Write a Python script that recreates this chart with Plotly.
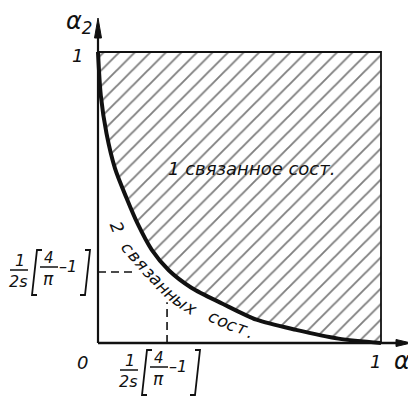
import plotly.graph_objects as go

# граница областей на плоскости (alpha1, alpha2)
alpha1 = [0.0, 0.01, 0.03, 0.06, 0.10, 0.14, 0.19, 0.25, 0.33, 0.44, 0.56, 0.70, 0.85, 1.0]
alpha2 = [1.0, 0.85, 0.72, 0.60, 0.50, 0.41, 0.32, 0.25, 0.19, 0.135, 0.08, 0.045, 0.015, 0.0]
box_x = [0, 1, 1]
box_y = [1, 1, 0]
crit = 0.244  # 1/(2s)[4/pi - 1]

PAGE_W, PAGE_H = 416, 396
OFF = 8            # отступ body в странице
W, H = PAGE_W - OFF, PAGE_H - OFF
X0, SX = 98, 283   # пиксель начала координат и масштаб по alpha1
Y0, SY = 343, 291  # то же по alpha2


def X(px):
    return (px - X0) / SX


def Y(py):
    return (Y0 - py) / SY


FONT = "DejaVu Sans"
BLACK = "#111"

fig = go.Figure()

# кривая (тонкая, для заливки tonext)
fig.add_trace(go.Scatter(x=alpha1, y=alpha2, mode="lines",
                         line=dict(color=BLACK, width=0.5, shape="spline", smoothing=0.8),
                         hoverinfo="skip"))
# рамка + штриховка области "1 связанное сост."
fig.add_trace(go.Scatter(x=box_x, y=box_y, mode="lines", fill="tonext",
                         fillcolor="white",
                         fillpattern=dict(shape="/", size=11, solidity=0.17,
                                          fgcolor="black", bgcolor="white"),
                         line=dict(color=BLACK, width=1.8), hoverinfo="skip"))
# жирная кривая поверх
fig.add_trace(go.Scatter(x=alpha1, y=alpha2, mode="lines",
                         line=dict(color=BLACK, width=4, shape="spline", smoothing=0.8),
                         hoverinfo="skip"))
# пунктиры
fig.add_trace(go.Scatter(x=[0, 0.13], y=[crit, crit], mode="lines",
                         line=dict(color=BLACK, width=1.6, dash="8px,5px"), hoverinfo="skip"))
fig.add_trace(go.Scatter(x=[crit, crit], y=[0, 0.14], mode="lines",
                         line=dict(color=BLACK, width=1.6, dash="8px,5px"), hoverinfo="skip"))

shapes = []
# оси
shapes.append(dict(type="line", x0=0, y0=0, x1=0, y1=Y(35), line=dict(color=BLACK, width=2.2)))
shapes.append(dict(type="line", x0=0, y0=0, x1=X(400), y1=0, line=dict(color=BLACK, width=2.6)))
# стрелки
shapes.append(dict(type="path", fillcolor=BLACK, line=dict(color=BLACK, width=1),
                   path=f"M{X(94.5)},{Y(38)} L{X(98)},{Y(18)} L{X(101.5)},{Y(38)} Z"))
shapes.append(dict(type="path", fillcolor=BLACK, line=dict(color=BLACK, width=1),
                   path=f"M{X(396)},{Y(339.5)} L{X(411)},{Y(343)} L{X(396)},{Y(346.5)} Z"))


def hline(xa, xb, py):
    shapes.append(dict(type="line", x0=X(xa), x1=X(xb), y0=Y(py), y1=Y(py),
                       line=dict(color=BLACK, width=1.5)))


def bracket(pts):
    d = "M" + " L".join(f"{X(a)},{Y(b)}" for a, b in pts)
    shapes.append(dict(type="path", path=d, line=dict(color=BLACK, width=1.8)))


annotations = []


def txt(s, px, py, size=15, angle=0, anchor="center"):
    annotations.append(dict(x=X(px), y=Y(py), text=f"<i>{s}</i>", showarrow=False,
                            xanchor=anchor, yanchor="middle", textangle=angle,
                            font=dict(family=FONT, size=size, color=BLACK)))


def frac_label(dx, dy):
    # 1/(2s) [4/pi - 1]
    txt("1", 20 + dx, 260 + dy, size=16)
    hline(10 + dx, 28 + dx, 270 + dy)
    txt("2s", 18 + dx, 281 + dy, size=16)
    bracket([(42 + dx, 250 + dy), (37 + dx, 250 + dy), (32 + dx, 295 + dy), (37 + dx, 295 + dy)])
    txt("4", 49 + dx, 258 + dy, size=15)
    hline(40 + dx, 58 + dx, 267 + dy)
    txt("π", 48 + dx, 279 + dy, size=17)
    txt("–1", 68 + dx, 266 + dy, size=16)
    bracket([(85 + dx, 250 + dy), (90 + dx, 250 + dy), (85 + dx, 295 + dy), (80 + dx, 295 + dy)])


frac_label(0, 0)
frac_label(110, 100)

txt("α<sub>2</sub>", 79, 22, size=24)
txt("1", 77, 55, size=18)
txt("0", 82, 362, size=18)
txt("1", 375, 361, size=18)
txt("α<sub>1</sub>", 392, 362, size=24, anchor="left")
txt("1 связанное сост.", 251, 168, size=18)

# надпись вдоль кривой
along = [("2", 117, 227, 68), ("с", 128, 248, 55), ("в", 135, 256, 50), ("я", 142, 264, 48),
         ("з", 149, 272, 46), ("а", 156, 279, 44), ("н", 163, 287, 42), ("н", 171, 294, 40),
         ("ы", 180, 301, 37), ("х", 191, 308, 33), ("с", 214, 317, 25), ("о", 223, 321, 23),
         ("с", 232, 325, 21), ("т", 242, 328, 19), (".", 250, 332, 17)]
for ch, px, py, ang in along:
    txt(ch, px, py, size=17, angle=ang)

fig.update_layout(
    width=W, height=H,
    margin=dict(l=0, r=0, t=0, b=0),
    paper_bgcolor="white", plot_bgcolor="white",
    showlegend=False,
    xaxis=dict(range=[X(OFF), X(PAGE_W)], visible=False, fixedrange=True),
    yaxis=dict(range=[Y(PAGE_H), Y(OFF)], visible=False, fixedrange=True),
    shapes=shapes,
    annotations=annotations,
)

fig.write_html("out.html")
